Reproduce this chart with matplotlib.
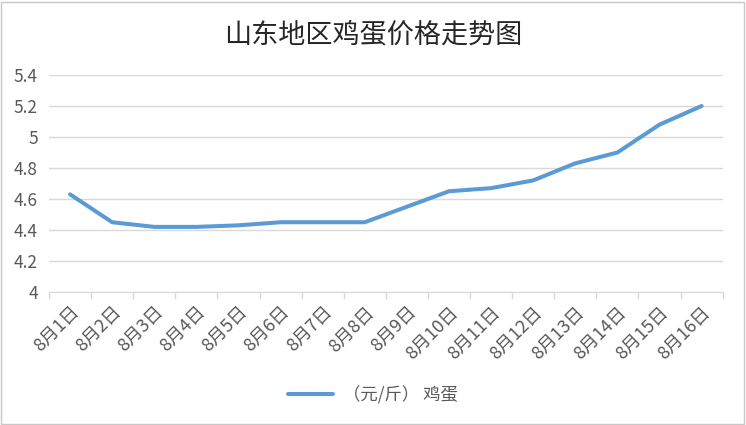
import matplotlib.pyplot as plt
from matplotlib.patches import Rectangle
from matplotlib.ticker import FixedLocator, NullFormatter

plt.rcParams['font.family'] = ['Noto Sans CJK SC', 'DejaVu Sans']

dates = ['8月1日', '8月2日', '8月3日', '8月4日', '8月5日', '8月6日', '8月7日', '8月8日',
         '8月9日', '8月10日', '8月11日', '8月12日', '8月13日', '8月14日', '8月15日', '8月16日']
prices = [4.63, 4.45, 4.42, 4.42, 4.43, 4.45, 4.45, 4.45,
          4.55, 4.65, 4.67, 4.72, 4.83, 4.90, 5.08, 5.20]
y_ticks = [4, 4.2, 4.4, 4.6, 4.8, 5, 5.2, 5.4]
y_labels = ['4', '4.2', '4.4', '4.6', '4.8', '5', '5.2', '5.4']

BLUE = '#5B9BD5'
GRID = '#d9d9d9'
TEXT = '#595959'

fig = plt.figure(figsize=(7.46, 4.25), dpi=100)
ax = fig.add_axes([0.0657, 0.313, 0.903, 0.5105])

x = list(range(len(dates)))
ax.plot(x, prices, color=BLUE, linewidth=2.9, solid_capstyle='round', label='（元/斤） 鸡蛋')

ax.set_xlim(-0.5, len(dates) - 0.5)
ax.set_ylim(4, 5.4)
ax.set_yticks(y_ticks)
ax.set_yticklabels(y_labels, color=TEXT, fontsize=12.5)
ax.tick_params(axis='y', length=0, pad=8)
ax.grid(axis='y', color=GRID, linewidth=1)
ax.set_axisbelow(True)

# labels at category centres, tick marks at boundaries
ax.set_xticks(x)
ax.set_xticklabels(dates, rotation=45, ha='right', va='top', rotation_mode='anchor',
                   color=TEXT, fontsize=13)
ax.tick_params(axis='x', which='major', length=0, pad=8)
ax.xaxis.set_minor_locator(FixedLocator([i - 0.5 for i in range(len(dates) + 1)]))
ax.xaxis.set_minor_formatter(NullFormatter())
ax.tick_params(axis='x', which='minor', length=5, color=GRID, width=1)

for s in ['top', 'right', 'left']:
    ax.spines[s].set_visible(False)
ax.spines['bottom'].set_color(GRID)

fig.text(0.5, 0.918, '山东地区鸡蛋价格走势图', ha='center', va='center',
         fontsize=19.5, color='#262626')

leg = fig.legend(loc='center', bbox_to_anchor=(0.5, 0.07), frameon=False,
                 handlelength=2.6, handletextpad=0.6, fontsize=12.5)
for t in leg.get_texts():
    t.set_color(TEXT)

fig.patches.append(Rectangle((0.002, 0.003), 0.995, 0.993, transform=fig.transFigure,
                             fill=False, edgecolor='#c8c8c8', linewidth=1))

fig.savefig('out.png', dpi=100)
